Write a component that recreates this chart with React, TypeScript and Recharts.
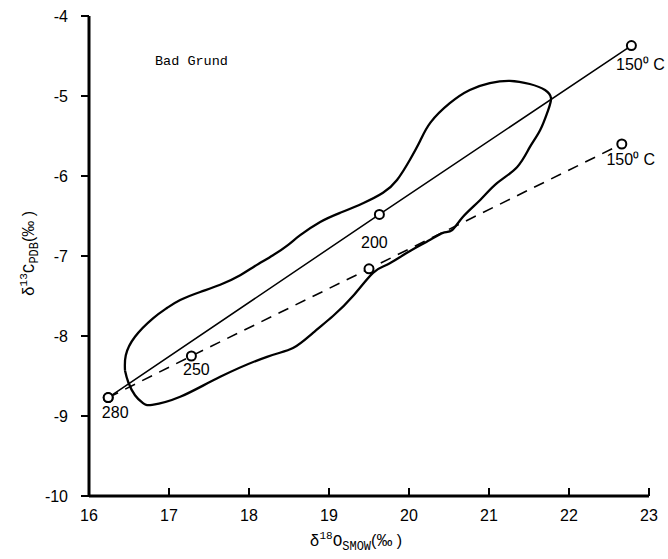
import { ComposedChart, Line, XAxis, YAxis, LabelList } from 'recharts'

const xTicks = [16, 17, 18, 19, 20, 21, 22, 23]
const yTicks = [-10, -9, -8, -7, -6, -5, -4]

// outline of the Bad Grund field, traced clockwise from the lower-left tip
const envelope: [number, number][] = [
  [16.45, -8.43], [16.46, -8.24], [16.575, -8.01], [16.8, -7.78], [16.975, -7.65],
  [17.14, -7.55], [17.39, -7.45], [17.64, -7.36], [17.89, -7.24], [18.075, -7.125],
  [18.3, -6.99], [18.49, -6.86], [18.64, -6.74], [18.89, -6.575], [19.14, -6.46],
  [19.425, -6.34], [19.675, -6.21], [19.85, -6.05], [20.01, -5.8], [20.14, -5.56],
  [20.27, -5.33], [20.51, -5.09], [20.76, -4.925], [21.01, -4.84], [21.26, -4.81],
  [21.51, -4.85], [21.7, -4.925], [21.775, -5.025], [21.74, -5.175], [21.64, -5.425],
  [21.51, -5.64], [21.35, -5.89], [21.1, -6.09], [20.89, -6.3], [20.675, -6.51],
  [20.54, -6.675], [20.425, -6.71], [20.26, -6.8], [19.975, -6.96], [19.725, -7.11],
  [19.55, -7.21], [19.3, -7.5], [19.05, -7.75], [18.8, -7.96], [18.55, -8.15],
  [18.225, -8.26], [17.64, -8.51], [17.14, -8.76], [16.79, -8.86], [16.675, -8.84],
  [16.575, -8.74], [16.49, -8.575], [16.45, -8.43],
]

// equilibrium curves (temperature points)
const solidX = [16.24, 19.63, 22.78]
const solidY = [-8.77, -6.48, -4.37]
const solidTemps = ['280', '200', '150⁰ C']

const dashedX = [16.24, 17.28, 19.5, 22.66]
const dashedY = [-8.77, -8.25, -7.16, -5.6]
const dashedTemps = ['', '250', '', '150⁰ C']

const envelopeData = envelope.map(([x, y]) => ({ x, y }))
const solidData = solidX.map((x, i) => ({ x, y: solidY[i], t: solidTemps[i] }))
const dashedData = dashedX.map((x, i) => ({ x, y: dashedY[i], t: dashedTemps[i] }))

const sans = '"Liberation Sans", Arial, sans-serif'
const mono = '"Liberation Mono", "DejaVu Sans Mono", monospace'

const solidOffsets = [[7, 20], [-5, 34], [9, 24]]
const dashedOffsets = [[0, 0], [5, 19], [0, 0], [9, 21]]

const Dot = (p: any) => (
  <circle
    key={`d-${p.index}-${p.cx}`}
    cx={p.cx}
    cy={p.cy}
    r={4.5}
    fill="#fff"
    stroke="#000"
    strokeWidth={2}
    strokeDasharray="none"
  />
)

const tempLabel = (offsets: number[][]) => (p: any) => {
  if (!p.value) return null
  const [dx, dy] = offsets[p.index] || [0, 0]
  return (
    <text
      x={p.x + dx}
      y={p.y + dy}
      textAnchor="middle"
      fontFamily={sans}
      fontSize={16}
      fill="#000"
    >
      {p.value}
    </text>
  )
}

const XTick = ({ x, y, payload }: any) => (
  <g>
    {payload.value !== 16 && (
      <line x1={x} x2={x} y1={y} y2={y - 8} stroke="#000" strokeWidth={2} />
    )}
    <text x={x} y={y + 25} textAnchor="middle" fontFamily={sans} fontSize={16} fill="#000">
      {payload.value}
    </text>
  </g>
)

const XTitle = (props: any) => {
  const { x, width } = props.viewBox
  return (
    <text x={x + width / 2 - 13} y={546} textAnchor="middle" fontFamily={mono} fontSize={16} fill="#000">
      δ<tspan dy={-7} fontSize={11}>18</tspan>
      <tspan dy={7}>O</tspan>
      <tspan dy={4} fontSize={12}>SMOW</tspan>
      <tspan dy={-4} fontFamily={sans}>(‰ )</tspan>
    </text>
  )
}

const YTitle = () => (
  <text
    x={34}
    y={296}
    transform="rotate(-90, 34, 296)"
    fontFamily={mono}
    fontSize={16}
    fill="#000"
  >
    δ<tspan dy={-7} fontSize={11}>13</tspan>
    <tspan dy={7}>C</tspan>
    <tspan dy={4} fontSize={12}>PDB</tspan>
    <tspan dy={-4} fontFamily={sans}>(‰ )</tspan>
  </text>
)

export default function App() {
  return (
    <div style={{ position: 'absolute', left: 0, top: 0, width: 668, height: 559, background: '#fff' }}>
      <ComposedChart
        width={668}
        height={559}
        margin={{ top: 16, right: 19, left: 29, bottom: 13 }}
      >
        <XAxis
          type="number"
          dataKey="x"
          domain={[16, 23]}
          ticks={xTicks}
          allowDataOverflow
          height={50}
          tickSize={0}
          tickMargin={0}
          tickLine={false}
          tick={<XTick />}
          axisLine={{ stroke: '#000', strokeWidth: 3 }}
          label={{ content: XTitle }}
        />
        <YAxis
          type="number"
          domain={[-10, -4]}
          ticks={yTicks}
          allowDataOverflow
          width={60}
          tickSize={8}
          tickMargin={13}
          tickLine={{ stroke: '#000', strokeWidth: 2 }}
          axisLine={{ stroke: '#000', strokeWidth: 3 }}
          tick={{ fill: '#000', fontSize: 16, fontFamily: sans }}
          label={{ content: YTitle }}
        />
        <Line
          data={envelopeData}
          dataKey="y"
          type="natural"
          stroke="#000"
          strokeWidth={2.3}
          dot={false}
          activeDot={false}
          isAnimationActive={false}
        />
        <Line
          data={dashedData}
          dataKey="y"
          type="linear"
          stroke="#000"
          strokeWidth={1.6}
          strokeDasharray="11 8"
          dot={Dot}
          activeDot={false}
          isAnimationActive={false}
        >
          <LabelList dataKey="t" content={tempLabel(dashedOffsets)} />
        </Line>
        <Line
          data={solidData}
          dataKey="y"
          type="linear"
          stroke="#000"
          strokeWidth={1.5}
          dot={Dot}
          activeDot={false}
          isAnimationActive={false}
        >
          <LabelList dataKey="t" content={tempLabel(solidOffsets)} />
        </Line>
      </ComposedChart>
      <div
        style={{
          position: 'absolute',
          left: 155,
          top: 55,
          fontFamily: mono,
          fontSize: 13.5,
          lineHeight: 1,
          color: '#000',
        }}
      >
        Bad Grund
      </div>
    </div>
  )
}
